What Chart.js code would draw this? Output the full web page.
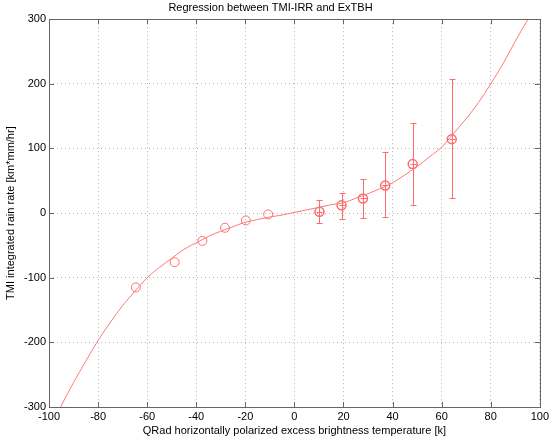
<!DOCTYPE html>
<html>
<head>
<meta charset="utf-8">
<script src="https://cdn.jsdelivr.net/npm/chart.js@4.4.7/dist/chart.umd.min.js"></script>
<style>
  html, body { margin: 0; padding: 0; background: #fff; }
  #wrap { position: relative; width: 552px; height: 446px; }
</style>
</head>
<body>
<div id="wrap"><canvas id="c" width="552" height="446"></canvas></div>
<script>
// fitted curve
var curveX = [-95.3, -90, -85, -80, -75, -70, -65, -60, -55, -50, -45, -40, -35, -30, -25, -20, -15, -10, -5, 0,
              5, 10, 15, 20, 25, 30, 35, 40, 45, 50, 55, 60, 65, 70, 75, 80, 85, 90, 95.2];
var curveY = [-300, -262, -229, -197, -169, -143, -121, -100, -84, -70, -56, -46, -36, -28, -21, -14, -10, -6, -3, 1,
              5, 9, 13, 16, 23, 30, 38, 47, 59, 72, 87, 102, 124, 146, 171, 200, 231, 266, 300];

// negative side points (no error bars)
var negX = [-64.6, -48.8, -37.5, -28.3, -19.8, -10.7];
var negY = [-115, -76, -43, -22.7, -11.3, -2];

// positive side points with error bars
var posX = [10.2, 19.2, 27.9, 37.0, 48.2, 64.1];
var posY = [2, 12, 22.7, 42.8, 75.8, 114.4];
var posHi = [21, 31.4, 53, 93.8, 140, 208];
var posLo = [-16, -8.8, -8.3, -6.7, 12, 22.7];

var xTicks = [-100, -80, -60, -40, -20, 0, 20, 40, 60, 80, 100];
var yTicks = [-300, -200, -100, 0, 100, 200, 300];

var red = "#ff7a7a";
var font = "'Liberation Sans', Arial, sans-serif";

function pts(xs, ys) {
    return xs.map(function (x, i) { return { x: x, y: ys[i] }; });
}

// box frame, inward ticks and error bars
var framePlugin = {
    id: "frame",
    afterDatasetsDraw: function (chart) {
        var ctx = chart.ctx, a = chart.chartArea;
        var sx = chart.scales.x, sy = chart.scales.y;
        ctx.save();
        // error bars
        ctx.strokeStyle = "#ff6a6a";
        ctx.lineWidth = 1;
        ctx.setLineDash([]);
        posX.forEach(function (x, i) {
            var px = Math.round(sx.getPixelForValue(x)) + 0.5;
            var hi = Math.round(sy.getPixelForValue(posHi[i])) + 0.5;
            var lo = Math.round(sy.getPixelForValue(posLo[i])) + 0.5;
            var py = Math.round(sy.getPixelForValue(posY[i])) + 0.5;
            ctx.beginPath();
            ctx.moveTo(px, hi); ctx.lineTo(px, lo);
            ctx.moveTo(px - 3, hi); ctx.lineTo(px + 3, hi);
            ctx.moveTo(px - 3, lo); ctx.lineTo(px + 3, lo);
            ctx.moveTo(px - 3, py); ctx.lineTo(px + 3, py);
            ctx.stroke();
        });
        // frame
        ctx.strokeStyle = "#666";
        ctx.lineWidth = 1;
        ctx.strokeRect(Math.round(a.left) + 0.5, Math.round(a.top) + 0.5,
            Math.round(a.right - a.left), Math.round(a.bottom - a.top));
        ctx.beginPath();
        xTicks.forEach(function (t) {
            var px = Math.round(sx.getPixelForValue(t)) + 0.5;
            ctx.moveTo(px, a.bottom); ctx.lineTo(px, a.bottom - 5);
            ctx.moveTo(px, a.top); ctx.lineTo(px, a.top + 5);
        });
        yTicks.forEach(function (t) {
            var py = Math.round(sy.getPixelForValue(t)) + 0.5;
            ctx.moveTo(a.left, py); ctx.lineTo(a.left + 5, py);
            ctx.moveTo(a.right, py); ctx.lineTo(a.right - 5, py);
        });
        ctx.stroke();
        ctx.restore();
    }
};

new Chart(document.getElementById("c"), {
    type: "scatter",
    data: {
        datasets: [
            { type: "line", data: pts(curveX, curveY), borderColor: red, borderWidth: 1, pointRadius: 0,
              cubicInterpolationMode: "monotone", fill: false },
            { data: pts(negX, negY), borderColor: "#ff7070", backgroundColor: "transparent", borderWidth: 1, pointRadius: 4.5 },
            { data: pts(posX, posY), borderColor: "#ff6a6a", backgroundColor: "transparent", borderWidth: 1.5, pointRadius: 4.5 }
        ]
    },
    options: {
        responsive: false,
        animation: false,
        layout: { padding: { right: 11, left: 0, top: 0, bottom: 0 } },
        plugins: {
            legend: { display: false },
            tooltip: { enabled: false },
            title: {
                display: true, text: "Regression between TMI-IRR and ExTBH", color: "#000",
                font: { family: font, size: 11, weight: "normal" }, padding: { top: 1, bottom: 5 }
            }
        },
        scales: {
            x: {
                type: "linear", min: -100, max: 100,
                afterBuildTicks: function (s) { s.ticks = xTicks.map(function (v) { return { value: v }; }); },
                afterFit: function (s) { s.height = 39; },
                ticks: { color: "#000", font: { family: font, size: 11 }, padding: 3, maxRotation: 0 },
                grid: { color: "#b4b4b4", drawTicks: false },
                border: { display: false, dash: [1, 3] },
                title: { display: true, text: "QRad horizontally polarized excess brightness temperature [k]",
                         color: "#000", font: { family: font, size: 11 }, padding: { top: 0, bottom: 8 } }
            },
            y: {
                type: "linear", min: -300, max: 300,
                afterBuildTicks: function (s) { s.ticks = yTicks.map(function (v) { return { value: v }; }); },
                afterFit: function (s) { s.width = 49; },
                ticks: { color: "#000", font: { family: font, size: 11 }, padding: 3 },
                grid: { color: "#b4b4b4", drawTicks: false },
                border: { display: false, dash: [1, 3] },
                title: { display: true, text: "TMI integrated rain rate [km*mm/hr]",
                         color: "#000", font: { family: font, size: 11 }, padding: { top: 4, bottom: 0 } }
            }
        }
    },
    plugins: [framePlugin]
});
</script>
</body>
</html>
